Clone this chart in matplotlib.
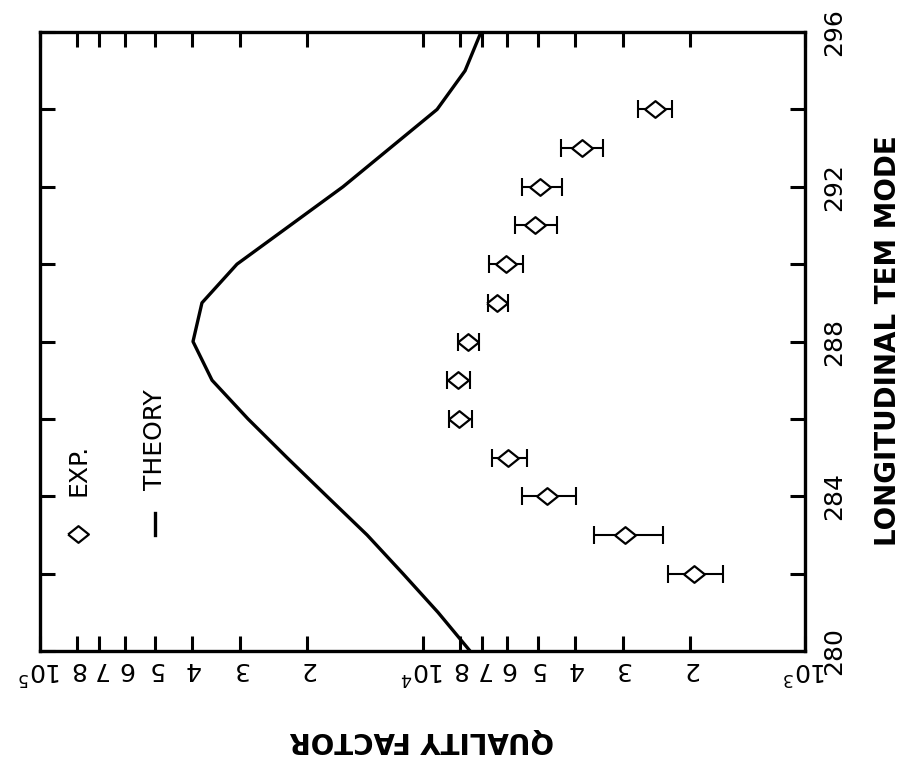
import matplotlib
matplotlib.use('agg')
import numpy as np
import matplotlib.pyplot as plt
from matplotlib.ticker import NullLocator

plt.rcParams['mathtext.default'] = 'regular'
plt.rcParams['font.family'] = ['DejaVu Sans']

# theory curve (quality factor vs longitudinal TEM mode)
theory_mode = [280, 281, 282, 283, 284, 285, 286, 287, 288, 289, 290,
               291, 292, 293, 294, 295, 296]
theory_q = [7510, 9110, 11250, 13960, 17780, 22610, 28590, 35500, 39810,
            37720, 30550, 22200, 16140, 12160, 9160, 7740, 7030]

# experiment with error range
exp_mode = [282, 283, 284, 285, 286, 287, 288, 289, 290, 291, 292, 293, 294]
exp_q = [1950, 2960, 4720, 5970, 8040, 8100, 7600, 6380, 6050, 5080, 4930, 3830, 2470]
exp_lo = [1640, 2350, 3970, 5330, 7430, 7500, 7110, 5970, 5460, 4450, 4320, 3370, 2230]
exp_hi = [2280, 3560, 5500, 6570, 8530, 8650, 8070, 6740, 6700, 5730, 5500, 4350, 2740]

q_ticks = [1e3, 2e3, 3e3, 4e3, 5e3, 6e3, 7e3, 8e3, 1e4, 2e4, 3e4, 4e4, 5e4,
           6e4, 7e4, 8e4, 1e5]
q_labels = ['$10^3$', '2', '3', '4', '5', '6', '7', '8', '$10^4$',
            '2', '3', '4', '5', '6', '7', '8', '$10^5$']
mode_ticks = [280, 282, 284, 286, 288, 290, 292, 294, 296]
mode_labels = ['280', '', '284', '', '288', '', '292', '', '296']

# diamond a little wider than tall (the page is turned)
diamond = [(-1, 0), (0, 0.8), (1, 0), (0, -0.8), (-1, 0)]


def main():
    fig = plt.figure(figsize=(9.19, 7.72), dpi=100)
    ax = fig.add_axes([0.0435, 0.1567, 0.8325, 0.8018])

    # figure is drawn turned by 90 degrees: Q runs right->left, mode bottom->top
    ax.plot(theory_q, theory_mode, color='k', lw=2.4)

    q = np.array(exp_q, dtype=float)
    xerr = [q - np.array(exp_lo), np.array(exp_hi) - q]
    ax.errorbar(q, exp_mode, xerr=xerr, fmt='none', ecolor='k',
                elinewidth=1.5, capsize=6.5, capthick=1.5)
    ax.plot(q, exp_mode, ls='none', marker=diamond, ms=15, mfc='white',
            mec='k', mew=1.6, zorder=3)

    ax.set_xscale('log')
    ax.set_xlim(1e5, 1e3)
    ax.set_ylim(280, 296)
    ax.xaxis.set_minor_locator(NullLocator())
    ax.set_xticks(q_ticks)
    ax.set_xticklabels(q_labels)
    ax.set_yticks(mode_ticks)
    ax.set_yticklabels(mode_labels)

    ax.tick_params(axis='both', direction='in', length=11, width=2.2,
                   top=True, bottom=True, left=True, right=True,
                   labelleft=False, labelright=True, labelsize=18)
    ax.tick_params(axis='x', labelrotation=180, pad=4)
    ax.tick_params(axis='y', labelrotation=90, pad=12)
    for lab in ax.get_yticklabels():
        lab.set_verticalalignment('center')
    for sp in ax.spines.values():
        sp.set_linewidth(2.4)

    # legend written inside the frame
    ax.plot([0.0497], [0.189], ls='none', marker=diamond, ms=15, mfc='white',
            mec='k', mew=1.6, transform=ax.transAxes)
    ax.text(0.0497, 0.25, 'EXP.', rotation=90, ha='center', va='bottom',
            fontsize=18, transform=ax.transAxes)
    ax.plot([0.150, 0.150], [0.187, 0.223], color='k', lw=2.4,
            transform=ax.transAxes)
    ax.text(0.150, 0.26, 'THEORY', rotation=90, ha='center', va='bottom',
            fontsize=18, transform=ax.transAxes)

    fig.text(422 / 919., 1 - 740 / 772., 'QUALITY FACTOR', rotation=180,
             ha='center', va='center', fontsize=20, fontweight='bold')
    fig.text(888 / 919., 1 - 341 / 772., 'LONGITUDINAL TEM MODE', rotation=90,
             ha='center', va='center', fontsize=20, fontweight='bold')

    plt.savefig('out.png', dpi=100)
    plt.close('all')


main()
